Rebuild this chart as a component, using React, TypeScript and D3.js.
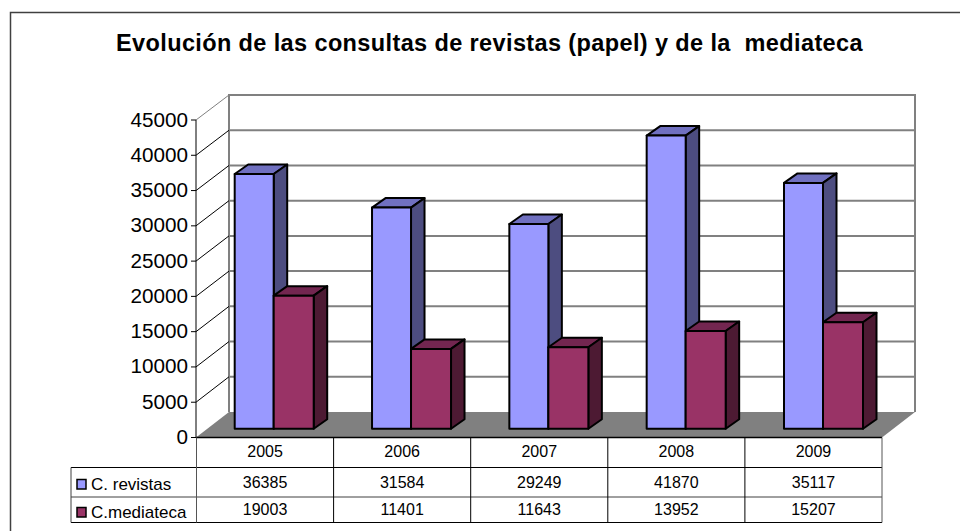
import React from "react";
import * as d3 from "d3";

const years = ["2005", "2006", "2007", "2008", "2009"];
const revistas = [36385, 31584, 29249, 41870, 35117];
const mediateca = [19003, 11401, 11643, 13952, 15207];
const ticks = [0, 5000, 10000, 15000, 20000, 25000, 30000, 35000, 40000, 45000];
const seriesNames = ["C. revistas", "C.mediateca"];
const titleText = "Evolución de las consultas de revistas (papel) y de la  mediateca";

const FONT = "'Liberation Sans', Arial, sans-serif";

function poly(pts: [number, number][]) {
  return pts.map((p) => p.join(",")).join(" ");
}

function Bar({ x0, x1, yTop, yBase, front, top, side }: { x0: number; x1: number; yTop: number; yBase: number; front: string; top: string; side: string }) {
  const dx = 13.5;
  const dy = -9.5;
  const common = { stroke: "#000", strokeWidth: 2, strokeLinejoin: "round" as const };
  return (
    <g>
      <polygon points={poly([[x0, yTop], [x0 + dx, yTop + dy], [x1 + dx, yTop + dy], [x1, yTop]])} fill={top} {...common} />
      <polygon points={poly([[x1, yTop], [x1 + dx, yTop + dy], [x1 + dx, yBase + dy], [x1, yBase]])} fill={side} {...common} />
      <rect x={x0} y={yTop} width={x1 - x0} height={yBase - yTop} fill={front} {...common} />
    </g>
  );
}

export default function App() {
  const axisY = d3.scaleLinear().domain([0, 45000]).range([437.5, 120]);
  const wallY = d3.scaleLinear().domain([0, 45000]).range([412, 95]);
  const barY = d3.scaleLinear().domain([0, 45000]).range([428.7, 113.7]);
  const colX = d3.scaleLinear().domain([0, 5]).range([196.5, 882]);
  const barX = d3.scaleLinear().domain([0, 4]).range([234.7, 784]);

  const rowY = [437.5, 467.5, 497, 522.5];
  const tableLeft = 71;

  return (
    <svg
      width={960}
      height={531}
      style={{ position: "absolute", left: 0, top: 0, display: "block", background: "#fff", fontFamily: FONT }}
    >
      {/* frame */}
      <path d="M10.5,531 V12.5 H960" fill="none" stroke="#404040" strokeWidth={1.5} />

      <text x={116} y={50.5} fontSize={23.5} letterSpacing={0.38} fontWeight={700} fill="#000" style={{ whiteSpace: "pre" }}>
        {titleText}
      </text>

      {/* back wall */}
      <polyline points={poly([[229, 412], [229, 95], [915, 95], [915, 412]])} fill="none" stroke="#808080" strokeWidth={2} />
      {ticks.slice(1, -1).map((t) => (
        <line key={t} x1={229} x2={915} y1={wallY(t)} y2={wallY(t)} stroke="#808080" strokeWidth={2} />
      ))}
      {/* side wall lines */}
      {ticks.slice(1).map((t) => (
        <line key={t} x1={196} x2={229} y1={axisY(t)} y2={wallY(t)} stroke={t === 45000 ? "#808080" : "#000"} strokeWidth={1} />
      ))}

      {/* floor */}
      <polygon points={poly([[196, 437.5], [229, 412], [915, 412], [882, 437.5]])} fill="#808080" />

      {/* bars */}
      {years.map((y, i) => {
        const x = barX(i);
        return (
          <g key={y}>
            <Bar x0={x} x1={x + 39} yTop={barY(revistas[i])} yBase={barY(0)} front="#9999FF" top="#7070C0" side="#4D4D80" />
            <Bar x0={x + 39} x1={x + 79} yTop={barY(mediateca[i])} yBase={barY(0)} front="#993366" top="#732650" side="#4D1A33" />
          </g>
        );
      })}

      {/* value axis */}
      <line x1={196} x2={196} y1={120} y2={437.5} stroke="#000" strokeWidth={1} />
      {ticks.map((t) => (
        <g key={t}>
          <line x1={191} x2={196} y1={axisY(t)} y2={axisY(t)} stroke="#000" strokeWidth={1} />
          <text x={188} y={axisY(t) + 6.5} textAnchor="end" fontSize={20.7} fill="#000">
            {t}
          </text>
        </g>
      ))}

      {/* data table */}
      <line x1={196} x2={882} y1={rowY[0]} y2={rowY[0]} stroke="#000" strokeWidth={1.5} />
      <line x1={tableLeft} x2={882} y1={rowY[1]} y2={rowY[1]} stroke="#000" strokeWidth={1} />
      <line x1={tableLeft} x2={882} y1={rowY[2]} y2={rowY[2]} stroke="#404040" strokeWidth={1} />
      <line x1={tableLeft} x2={882} y1={rowY[3]} y2={rowY[3]} stroke="#000" strokeWidth={1} />
      <line x1={tableLeft} x2={tableLeft} y1={rowY[1]} y2={rowY[3]} stroke="#404040" strokeWidth={1} />
      {d3.range(0, 6).map((i) => (
        <line key={i} x1={colX(i)} x2={colX(i)} y1={rowY[0]} y2={rowY[3]} stroke={i === 0 || i === 5 ? "#555" : "#000"} strokeWidth={1} />
      ))}
      {years.map((y, i) => {
        const cx = (colX(i) + colX(i + 1)) / 2;
        return (
          <g key={y} fontSize={16} fill="#000" textAnchor="middle">
            <text x={cx} y={457}>{y}</text>
            <text x={cx} y={488}>{revistas[i]}</text>
            <text x={cx} y={515}>{mediateca[i]}</text>
          </g>
        );
      })}
      {seriesNames.map((name, i) => {
        const cy = i === 0 ? 484.5 : 512.5;
        return (
          <g key={name}>
            <rect x={77} y={cy - 5} width={9} height={9.5} fill={i === 0 ? "#9999FF" : "#993366"} stroke="#000" strokeWidth={1.5} />
            <text x={91} y={cy + 5} fontSize={17} fill="#000">{name}</text>
          </g>
        );
      })}
    </svg>
  );
}
